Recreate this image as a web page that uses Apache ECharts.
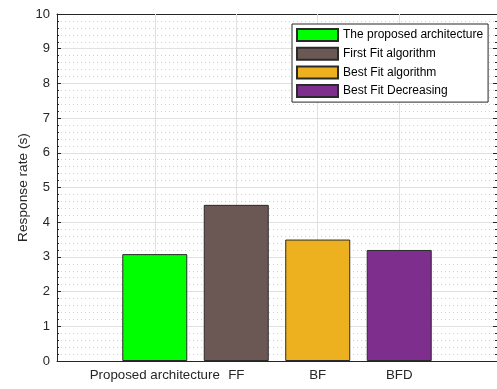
<!DOCTYPE html>
<html>
<head>
<meta charset="utf-8">
<script src="https://cdn.jsdelivr.net/npm/echarts@6/dist/echarts.min.js"></script>
<style>
  html, body { margin: 0; padding: 0; background: #fff; }
  #chart { width: 497px; height: 389px; }
</style>
</head>
<body>
<div id="chart"></div>
<script>
// Response time of each placement approach
const categories = ['Proposed architecture', 'FF', 'BF', 'BFD'];
const seriesNames = ['The proposed architecture', 'First Fit algorithm', 'Best Fit algorithm', 'Best Fit Decreasing'];
const responseTimes = [3.08, 4.5, 3.5, 3.2];
const barColors = ['#00ff00', '#6b5854', '#edb120', '#7e2f8e'];
const yTicks = [0, 1, 2, 3, 4, 5, 6, 7, 8, 9, 10];

// bar positions along the x axis: 1..n
const positions = categories.map((_, i) => i + 1);

const axisColor = '#262626';
const font = '"Liberation Sans", Arial, Helvetica, sans-serif';

const barSeries = seriesNames.map((name, i) => ({
  name: name,
  type: 'bar',
  stack: 'bars',
  barWidth: 65,
  z: 3,
  itemStyle: { color: barColors[i], borderColor: '#2a2a2a', borderWidth: 1 },
  data: [[positions[i], responseTimes[i]]]
}));

// vertical grid lines at each category position, drawn beneath the bars
const gridSeries = {
  name: 'grid',
  type: 'line',
  data: [],
  z: 1,
  silent: true,
  markLine: {
    z: 1,
    silent: true,
    symbol: ['none', 'none'],
    label: { show: false },
    lineStyle: { color: '#e0e0e0', type: 'solid', width: 1 },
    emphasis: { disabled: true },
    data: positions.map(p => ({ xAxis: p }))
  }
};

const chart = echarts.init(document.getElementById('chart'), null, { renderer: 'canvas' });
chart.setOption({
  animation: false,
  backgroundColor: '#ffffff',
  textStyle: { fontFamily: font },
  grid: { left: 57, right: -1, top: 14, bottom: 28, containLabel: false },
  legend: {
    data: seriesNames,
    orient: 'vertical',
    left: 292,
    top: 24,
    align: 'left',
    icon: 'rect',
    itemWidth: 41,
    itemHeight: 12,
    itemGap: 4.7,
    padding: [4, 5, 4, 4],
    backgroundColor: '#ffffff',
    borderColor: axisColor,
    borderWidth: 1,
    borderRadius: 0,
    selectedMode: false,
    textStyle: { fontFamily: font, fontSize: 12, color: '#000', lineHeight: 12 }
  },
  xAxis: [
    {
      type: 'value',
      position: 'bottom',
      min: -0.2,
      max: 5.2,
      axisLine: { show: true, onZero: false, lineStyle: { color: axisColor, width: 1 } },
      axisTick: { show: true, inside: true, length: 4, customValues: positions, lineStyle: { color: axisColor } },
      axisLabel: {
        show: true,
        customValues: positions,
        margin: 8,
        color: axisColor,
        fontFamily: font,
        fontSize: 13.3,
        formatter: v => categories[Math.round(v) - 1] || ''
      },
      splitLine: { show: false }
    },
    {
      type: 'value',
      position: 'top',
      min: -0.2,
      max: 5.2,
      axisLine: { show: true, onZero: false, lineStyle: { color: axisColor, width: 1 } },
      axisTick: { show: true, inside: true, length: 4, customValues: positions, lineStyle: { color: axisColor } },
      axisLabel: { show: false },
      splitLine: { show: false }
    }
  ],
  yAxis: [
    {
      type: 'value',
      position: 'left',
      min: 0,
      max: 10,
      interval: 1,
      name: 'Response rate (s)',
      nameLocation: 'middle',
      nameGap: 27,
      nameMoveOverlap: false,
      nameTextStyle: { color: axisColor, fontFamily: font, fontSize: 13.7 },
      axisLine: { show: true, onZero: false, lineStyle: { color: axisColor, width: 1 } },
      axisTick: { show: true, inside: true, length: 4, lineStyle: { color: axisColor } },
      minorTick: { show: true, splitNumber: 5, length: 2, lineStyle: { color: axisColor } },
      axisLabel: {
        margin: 7,
        color: axisColor,
        fontFamily: font,
        fontSize: 13,
        customValues: yTicks
      },
      splitLine: { show: true, lineStyle: { color: '#e0e0e0', width: 1 } },
      minorSplitLine: { show: true, lineStyle: { color: '#cfcfcf', width: 1, type: [1, 3] } }
    },
    {
      type: 'value',
      position: 'right',
      min: 0,
      max: 10,
      interval: 1,
      axisLine: { show: true, onZero: false, lineStyle: { color: axisColor, width: 1 } },
      axisTick: { show: true, inside: true, length: 4, lineStyle: { color: axisColor } },
      minorTick: { show: true, splitNumber: 5, length: 2, lineStyle: { color: axisColor } },
      axisLabel: { show: false },
      splitLine: { show: false }
    }
  ],
  series: [gridSeries].concat(barSeries)
});
</script>
</body>
</html>
